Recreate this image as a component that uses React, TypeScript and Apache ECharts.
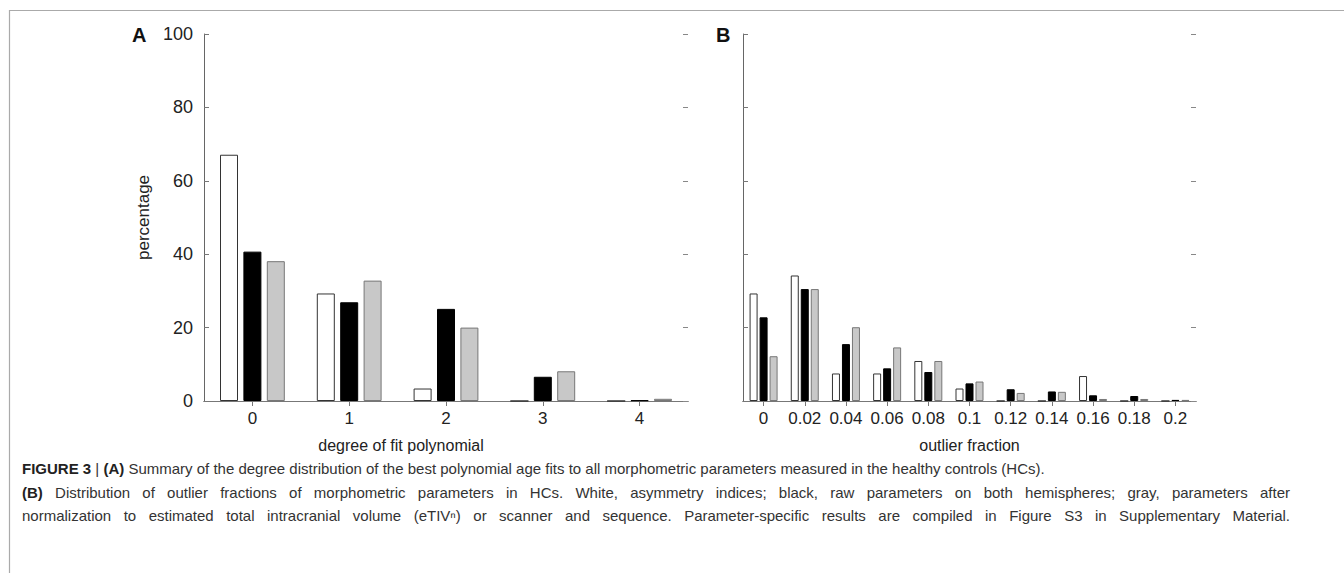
import React, { useEffect, useRef } from "react";
import * as echarts from "echarts";

// Panel A: degree of best polynomial fit
const degreeCategories = ["0", "1", "2", "3", "4"];
const degreeWhite = [67.1, 29.3, 3.4, 0, 0];
const degreeBlack = [40.7, 26.9, 25.1, 6.6, 0.2];
const degreeGray = [38.1, 32.8, 20.0, 8.1, 0.6];

// Panel B: outlier fraction
const outlierCategories = ["0", "0.02", "0.04", "0.06", "0.08", "0.1", "0.12", "0.14", "0.16", "0.18", "0.2"];
const outlierWhite = [29.3, 34.2, 7.5, 7.5, 10.9, 3.4, 0, 0, 6.8, 0, 0];
const outlierBlack = [22.8, 30.5, 15.5, 8.9, 7.9, 4.8, 3.2, 2.6, 1.55, 1.36, 0.3];
const outlierGray = [12.2, 30.5, 20.1, 14.6, 10.9, 5.3, 2.2, 2.5, 0.55, 0.55, 0.3];

// Y axis ticks
const yMin = 0;
const yMax = 100;
const yStep = 20;

// Caption: [text, bold] segments per line; justify flag per line
const captionLines: { segs: [string, boolean][]; justify: boolean }[] = [
  {
    segs: [
      ["FIGURE 3", true],
      [" | ", false],
      ["(A)", true],
      [" Summary of the degree distribution of the best polynomial age fits to all morphometric parameters measured in the healthy controls (HCs).", false],
    ],
    justify: false,
  },
  {
    segs: [
      ["(B)", true],
      [" Distribution of outlier fractions of morphometric parameters in HCs. White, asymmetry indices; black, raw parameters on both hemispheres; gray, parameters after", false],
    ],
    justify: true,
  },
  {
    segs: [
      ["normalization to estimated total intracranial volume (eTIV\u207F) or scanner and sequence. Parameter-specific results are compiled in Figure S3 in Supplementary Material.", false],
    ],
    justify: true,
  },
];

const FONT = "'Liberation Sans', Arial, sans-serif";
const TXT = "#222";
const AX = "#666";
const CAP_SIZE = 15;
const CAP_LEFT = 22;
const CAP_RIGHT = 1290;
const CAP_TOP = 461;
const CAP_STEP = 23.5;

function measure(text: string, bold: boolean): number {
  const c = document.createElement("canvas");
  const ctx = c.getContext("2d");
  if (!ctx) return text.length * 7;
  ctx.font = `${bold ? "bold " : ""}${CAP_SIZE}px 'Liberation Sans', Arial, sans-serif`;
  return ctx.measureText(text).width;
}

function captionGraphics() {
  const out: any[] = [];
  captionLines.forEach((line, li) => {
    const top = CAP_TOP + li * CAP_STEP;
    // split into words with bold flags
    const words: { t: string; b: boolean }[] = [];
    line.segs.forEach(([t, b]) => {
      t.split(" ").forEach((w) => {
        if (w.length) words.push({ t: w, b });
      });
    });
    const space = measure(" ", false);
    const widths = words.map((w) => measure(w.t, w.b));
    const total = widths.reduce((a, b) => a + b, 0);
    let gap = space;
    if (line.justify && words.length > 1) {
      gap = (CAP_RIGHT - CAP_LEFT - total) / (words.length - 1);
    }
    let x = CAP_LEFT;
    words.forEach((w, i) => {
      out.push({
        type: "text",
        x,
        y: top,
        style: {
          text: w.t,
          fontSize: CAP_SIZE,
          fontWeight: w.b ? "bold" : "normal",
          fill: w.b ? "#222" : "#333",
          fontFamily: FONT,
          textVerticalAlign: "top",
          verticalAlign: "top",
        },
      });
      x += widths[i] + gap;
    });
  });
  return out;
}

function bottomAxis(gridIndex: number, data: string[], name: string, namePad: number[]) {
  return {
    type: "category",
    gridIndex,
    position: "bottom",
    data,
    axisLine: { show: true, lineStyle: { color: "#555", width: 1 } },
    axisTick: { show: false },
    axisLabel: { fontSize: 17, color: TXT, fontFamily: FONT, margin: 9, interval: 0 },
    name,
    nameLocation: "middle",
    nameGap: 36,
    nameTextStyle: { fontSize: 16, color: TXT, fontFamily: FONT, padding: namePad },
    splitLine: { show: false },
  };
}

function topAxis(gridIndex: number, data: string[]) {
  return {
    type: "category",
    gridIndex,
    position: "top",
    data,
    axisLine: { show: true, lineStyle: { color: "#777", width: 1 } },
    axisTick: { show: true, inside: true, alignWithLabel: true, length: 5, interval: 0, lineStyle: { color: "#777" } },
    axisLabel: { show: false },
    splitLine: { show: false },
  };
}

function leftAxis(gridIndex: number, labels: boolean, name?: string) {
  return {
    type: "value",
    gridIndex,
    position: "left",
    min: yMin,
    max: yMax,
    interval: yStep,
    axisLine: { show: true, lineStyle: { color: AX, width: 1 } },
    axisTick: { show: true, inside: true, length: 5, lineStyle: { color: "#777" } },
    axisLabel: { show: labels, fontSize: 18, color: TXT, fontFamily: FONT, margin: 11 },
    splitLine: { show: false },
    name: name || "",
    nameLocation: "middle",
    nameGap: 52,
    nameTextStyle: { fontSize: 17, color: TXT, fontFamily: FONT },
  };
}

function rightAxis(gridIndex: number) {
  return {
    type: "value",
    gridIndex,
    position: "right",
    min: yMin,
    max: yMax,
    interval: yStep,
    axisLine: { show: false },
    axisTick: { show: true, inside: true, length: 5, lineStyle: { color: "#888" } },
    axisLabel: { show: false },
    splitLine: { show: false },
  };
}

function barSeries(
  data: number[],
  xAxisIndex: number,
  yAxisIndex: number,
  fill: string,
  border: string,
  barWidth: number,
  barGap: string
) {
  return {
    type: "bar",
    xAxisIndex,
    yAxisIndex,
    data,
    barWidth,
    barGap,
    itemStyle: { color: fill, borderColor: border, borderWidth: 1 },
    silent: true,
  };
}

export default function App() {
  const ref = useRef<HTMLDivElement>(null);

  useEffect(() => {
    if (!ref.current) return;
    const chart = echarts.init(ref.current, null, { renderer: "svg" });
    const option = {
      animation: false,
      backgroundColor: "#ffffff",
      grid: [
        { left: 204, top: 34, width: 484, height: 367 },
        { left: 743, top: 34, width: 453, height: 367 },
      ],
      xAxis: [
        bottomAxis(0, degreeCategories, "degree of fit polynomial", [0, 90, 0, 0]),
        topAxis(0, degreeCategories),
        bottomAxis(1, outlierCategories, "outlier fraction", [0, 0, 0, 0]),
        topAxis(1, outlierCategories),
      ],
      yAxis: [leftAxis(0, true, "percentage"), rightAxis(0), leftAxis(1, false), rightAxis(1)],
      series: [
        barSeries(degreeWhite, 0, 0, "#ffffff", "#333333", 18, "30%"),
        barSeries(degreeBlack, 0, 0, "#000000", "#000000", 18, "30%"),
        barSeries(degreeGray, 0, 0, "#c8c8c8", "#777777", 18, "30%"),
        barSeries(outlierWhite, 2, 2, "#ffffff", "#333333", 8, "25%"),
        barSeries(outlierBlack, 2, 2, "#000000", "#000000", 8, "25%"),
        barSeries(outlierGray, 2, 2, "#c8c8c8", "#777777", 8, "25%"),
      ],
      graphic: [
        { type: "line", shape: { x1: 9, y1: 10.5, x2: 1344, y2: 10.5 }, style: { stroke: "#aaaaaa", lineWidth: 1.2 } },
        { type: "line", shape: { x1: 9.5, y1: 10, x2: 9.5, y2: 573 }, style: { stroke: "#aaaaaa", lineWidth: 1.2 } },
        {
          type: "text",
          left: 132,
          top: 25,
          style: { text: "A", fontSize: 20, fontWeight: "bold", fill: "#111", fontFamily: FONT },
        },
        {
          type: "text",
          left: 716,
          top: 25,
          style: { text: "B", fontSize: 20, fontWeight: "bold", fill: "#111", fontFamily: FONT },
        },
        ...captionGraphics(),
      ],
    };
    chart.setOption(option as any);
    return () => chart.dispose();
  }, []);

  return (
    <div
      ref={ref}
      style={{ position: "absolute", left: 0, top: 0, width: 1344, height: 573, background: "#fff" }}
    />
  );
}
